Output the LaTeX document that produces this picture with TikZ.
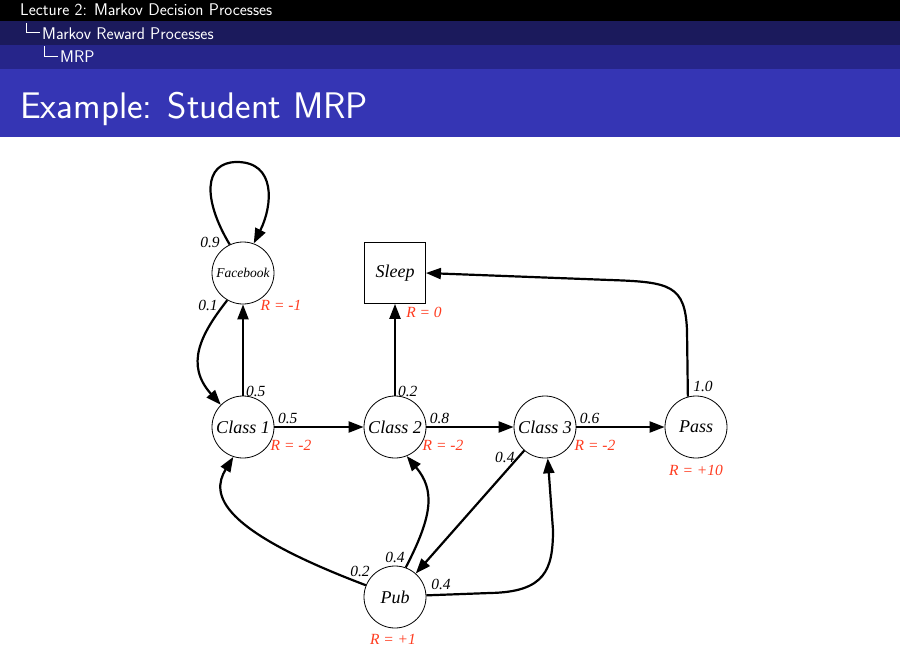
\documentclass[tikz,border=0pt]{standalone}
\usepackage{fontspec}
\setmainfont{Liberation Serif}
\usetikzlibrary{arrows.meta,calc}

\definecolor{barone}{RGB}{27,26,92}
\definecolor{bartwo}{RGB}{38,37,138}
\definecolor{titlebar}{RGB}{53,53,180}
\definecolor{rewred}{RGB}{255,59,31}

\begin{document}
\begin{tikzpicture}[x=1pt,y=-1pt,
      state/.style={circle, draw, line width=0.8pt, minimum size=62pt, inner sep=0pt,
        font=\fontsize{18}{20}\selectfont\itshape},
      sink/.style={rectangle, draw, line width=0.8pt, minimum size=61pt, inner sep=0pt,
        font=\fontsize{18}{20}\selectfont\itshape},
      prob/.style={inner sep=2pt, font=\fontsize{15.5}{17}\selectfont\itshape},
      rew/.style={inner sep=0pt, text=rewred, font=\fontsize{15.5}{17}\selectfont\itshape},
      trans/.style={line width=2.2pt, -{Triangle[length=15pt,width=11pt]}},
      head/.style={inner sep=0pt, anchor=base west, text=white, font=\sffamily\fontsize{16.9}{18}\selectfont}]
      \useasboundingbox (0,0) rectangle (900,672);
      \fill[white] (0,0) rectangle (900,672);
      % slide header
      \fill[black] (0,0) rectangle (900,21);
      \fill[barone] (0,21) rectangle (900,45);
      \fill[bartwo] (0,45) rectangle (900,69);
      \fill[titlebar] (0,69) rectangle (900,137);
      \node[head](lecture) at (20,15){Lecture 2: Markov Decision Processes};
      \node[head](section) at (42,39){Markov Reward Processes};
      \node[head](subsection) at (60,62){MRP};
      \draw[white, line width=0.8pt] (26,23) -- (26,32.5) -- (40,32.5);
      \draw[white, line width=0.8pt] (44,46) -- (44,56.5) -- (58,56.5);
      \node[head, font=\sffamily\fontsize{37}{40}\selectfont](title) at (20,118){Example: Student MRP};
      % states
      \node[state, font=\fontsize{13.5}{15}\selectfont\itshape](fb) at (243, 273){Facebook};
      \node[sink](sleep) at (395, 273){Sleep};
      \node[state](class1) at (243, 427){Class 1};
      \node[state](class2) at (395, 427){Class 2};
      \node[state](class3) at (545, 427){Class 3};
      \node[state](pass) at (696, 427){Pass};
      \node[state](pub) at (395, 597){Pub};
      % rewards
      \node[rew](rfb) at (281, 305){R = -1};
      \node[rew](rsleep) at (424, 312){R = 0};
      \node[rew](rc1) at (291, 445){R = -2};
      \node[rew](rc2) at (443, 445){R = -2};
      \node[rew](rc3) at (595, 445){R = -2};
      \node[rew](rpass) at (696, 470){R = +10};
      \node[rew](rpub) at (393, 639){R = +1};
      % transitions
      \draw[trans] (fb.115) .. controls (203,200) and (203,162) .. (237,162)
        .. controls (276,162) and (273,205) .. (fb.70);
      \node[prob](p99) at (210,242){0.9};
      \draw[trans] (fb.240) .. controls (200,335) and (185,365) .. (class1.135);
      \node[prob](p01) at (208,305){0.1};
      \draw[trans] (class1) edge node[prob,pos=0.05,right] {0.5} (fb);
      \draw[trans] (class1) edge node[prob,pos=0.15,above] {0.5} (class2);
      \draw[trans] (class2) edge node[prob,pos=0.05,right] {0.2} (sleep);
      \draw[trans] (class2) edge node[prob,pos=0.15,above] {0.8} (class3);
      \draw[trans] (class3) edge node[prob,pos=0.15,above] {0.6} (pass);
      \draw[trans] (class3) edge node[prob,pos=0.06,left] {0.4} (pub);
      \draw[trans] (pass.105) -- (687,330) .. controls (685,285) and (670,282) .. (610,280) -- (sleep.east);
      \node[prob](p10) at (703,386){1.0};
      \draw[trans] (pub.158) .. controls (220,530) and (210,495) .. (class1.-108);
      \node[prob](p02) at (360,571){0.2};
      \draw[trans] (pub.70) .. controls (433,515) and (435,490) .. (class2.-68);
      \node[prob](p04a) at (395,557){0.4};
      \draw[trans] (pub.3) -- (490,593) .. controls (545,592) and (553,570) .. (553,530) -- (class3.-85);
      \node[prob](p04b) at (441,584){0.4};
    \end{tikzpicture}
\end{document}
